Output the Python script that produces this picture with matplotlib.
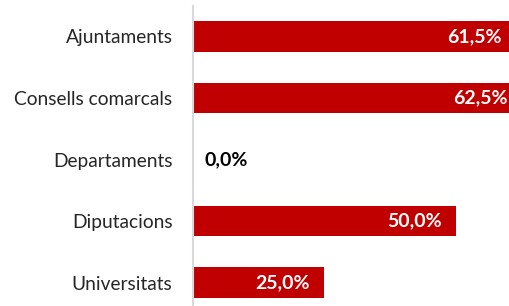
import matplotlib
matplotlib.use('Agg')
import matplotlib.pyplot as plt

categories = ['Ajuntaments', 'Consells comarcals', 'Departaments', 'Diputacions', 'Universitats']
values = [61.5, 62.5, 0.0, 50.0, 25.0]
labels = ['61,5%', '62,5%', '0,0%', '50,0%', '25,0%']

plt.rcParams['font.family'] = ['Lato', 'DejaVu Sans']

W, H = 509, 306
fig = plt.figure(figsize=(W / 100, H / 100), dpi=100)
# axes extends past the right and bottom edge, like the cropped original
xmax = 70
px_per_unit = 5.26
left = 192.5 / W
width = xmax * px_per_unit / W
top = 1 - 5.75 / H
height = 307.5 / H
ax = fig.add_axes([left, top - height, width, height])

y = range(len(categories))
ax.barh(y, values, height=0.5, color='#C00000', edgecolor='none')
ax.set_xlim(0, xmax)
ax.set_ylim(4.5, -0.5)

for i, (v, lab) in enumerate(zip(values, labels)):
    if v > 5:
        ax.annotate(lab, (v, i), xytext=(-14, 0), textcoords='offset pixels',
                    ha='right', va='center', color='white', fontsize=14, fontweight='bold')
    else:
        ax.annotate(lab, (v, i), xytext=(12, 0), textcoords='offset pixels',
                    ha='left', va='center', color='black', fontsize=14, fontweight='bold')

ax.set_yticks(list(y))
ax.set_yticklabels(categories, fontsize=13.8, color='#262626')
ax.tick_params(axis='y', length=0, pad=20 * 72 / 100)
ax.set_xticks([])
for s in ['top', 'right', 'bottom']:
    ax.spines[s].set_visible(False)
ax.spines['left'].set_color('#D9D9D9')
ax.spines['left'].set_linewidth(1.5)

fig.savefig('out.png', dpi=100)
